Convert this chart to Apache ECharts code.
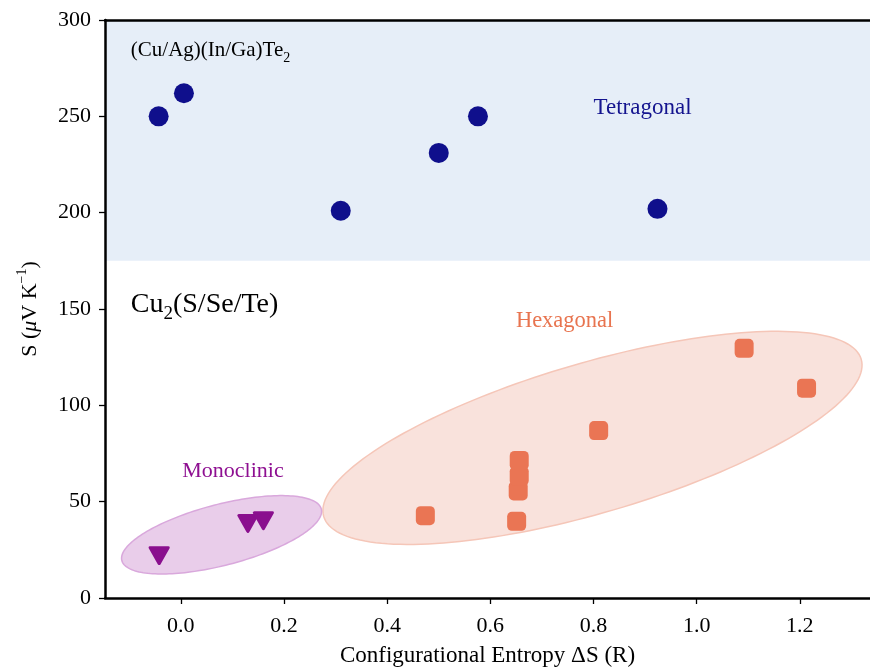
<!DOCTYPE html>
<html><head><meta charset="utf-8">
<script src="https://cdn.jsdelivr.net/npm/echarts@6/dist/echarts.min.js"></script>
<style>html,body{margin:0;padding:0;background:#fff}#c{width:870px;height:672px}</style>
</head><body><div id="c"></div>
<script>
// ---- data ----
const xTicks = [0.0, 0.2, 0.4, 0.6, 0.8, 1.0, 1.2];
const yTicks = [0, 50, 100, 150, 200, 250, 300];
const tetragonalX = [-0.043, 0.006, 0.310, 0.500, 0.576, 0.924];
const tetragonalY = [250, 262, 201, 231, 250, 202];
const hexagonalX = [0.474, 0.651, 0.654, 0.656, 0.656, 0.810, 1.092, 1.213];
const hexagonalY = [42.7, 39.8, 55.6, 63.3, 71.4, 86.9, 129.6, 108.9];
const monoclinicX = [-0.042, 0.130, 0.160];
const monoclinicY = [22, 38.7, 40.1];
const tetragonalBand = [175, 300];

// ---- decorations ----
const FONT = 'Liberation Serif';
const ellipses = [
  {cx: 0.798, cy: 83.1, rx: 280, ry: 75, angle: 16.3, fill: '#f9e2dc', stroke: '#f5c6b8'},
  {cx: 0.079, cy: 32.8, rx: 103, ry: 30.5, angle: 14.5, fill: '#e9cdea', stroke: '#d9a8dc'}
];
const annotations = [
  {x: -0.097, y: 284, text: '{t|(Cu/Ag)(In/Ga)Te}{b|2}', pos: 'right', color: '#000', size: 21},
  {x: -0.097, y: 152.5, text: '{t|Cu}{b|2}{t|(S/Se/Te)}', pos: 'right', color: '#000', size: 28},
  {x: 0.895, y: 254.5, text: '{t|Tetragonal}', pos: 'inside', color: '#14148f', size: 23},
  {x: 0.744, y: 143.5, text: '{t|Hexagonal}', pos: 'inside', color: '#e8744f', size: 22.5},
  {x: 0.101, y: 65.6, text: '{t|Monoclinic}', pos: 'inside', color: '#8e0f91', size: 22}
];

const zip = (xs, ys) => xs.map((x, i) => [x, ys[i]]);
const richFor = (color, size) => ({
  t: {fontFamily: FONT, fontSize: size, color: color, lineHeight: Math.round(size * 1.36)},
  b: {fontFamily: FONT, fontSize: Math.round(size * 0.68), color: color, lineHeight: Math.round(size * 0.9), verticalAlign: 'bottom'}
});

const chart = echarts.init(document.getElementById('c'), null, {renderer: 'canvas'});
chart.setOption({
  animation: false,
  backgroundColor: '#fff',
  grid: {left: 105, right: 0, top: 20, bottom: 68, show: false},
  xAxis: [{
    type: 'value', min: -0.147, max: 1.336, z: 6,
    name: 'Configurational Entropy ΔS (R)', nameLocation: 'middle', nameGap: 46,
    nameTextStyle: {fontFamily: FONT, fontSize: 23, color: '#000'},
    axisLine: {show: true, onZero: false, lineStyle: {color: '#000', width: 2.5}},
    axisTick: {show: true, customValues: xTicks, length: 6, lineStyle: {color: '#000', width: 1.3}},
    axisLabel: {customValues: xTicks, formatter: v => v.toFixed(1), fontFamily: FONT, fontSize: 22, color: '#000', margin: 17},
    splitLine: {show: false}
  }, {
    type: 'value', position: 'top', min: -0.147, max: 1.336, z: 6,
    axisLine: {show: true, onZero: false, lineStyle: {color: '#000', width: 2.5}},
    axisTick: {show: false}, axisLabel: {show: false}, splitLine: {show: false}
  }],
  yAxis: {
    type: 'value', min: yTicks[0], max: yTicks[yTicks.length - 1], interval: 50, z: 6,
    name: '{t|S (}{m|μ}{t|V K}{s|−1}{t|)}', nameLocation: 'middle', nameGap: 60, nameRotate: 90,
    nameTextStyle: {rich: {
      t: {fontFamily: FONT, fontSize: 22, color: '#000', lineHeight: 30},
      m: {fontFamily: FONT, fontSize: 22, fontStyle: 'italic', color: '#000', lineHeight: 30},
      s: {fontFamily: FONT, fontSize: 14, color: '#000', lineHeight: 18, verticalAlign: 'top'}
    }},
    axisLine: {show: true, onZero: false, lineStyle: {color: '#000', width: 2.5}},
    axisTick: {show: true, length: 6, lineStyle: {color: '#000', width: 1.3}},
    axisLabel: {fontFamily: FONT, fontSize: 22, color: '#000', margin: 14},
    splitLine: {show: false}
  },
  series: [
    {
      type: 'scatter', data: [], z: 0, silent: true,
      markArea: {silent: true, itemStyle: {color: '#e6eef8', opacity: 1}, data: [[{yAxis: tetragonalBand[0]}, {yAxis: tetragonalBand[1]}]]}
    },
    {
      type: 'custom', z: 1, silent: true, clip: false,
      data: ellipses.map(e => [e.cx, e.cy]),
      renderItem: (params, api) => {
        const e = ellipses[params.dataIndex];
        const c = api.coord([e.cx, e.cy]);
        const th = e.angle * Math.PI / 180;
        const pts = [];
        for (let i = 0; i < 180; i++) {
          const p = i / 180 * 2 * Math.PI;
          pts.push([
            c[0] + e.rx * Math.cos(p) * Math.cos(th) + e.ry * Math.sin(p) * Math.sin(th),
            c[1] - e.rx * Math.cos(p) * Math.sin(th) + e.ry * Math.sin(p) * Math.cos(th)
          ]);
        }
        return {type: 'polygon', shape: {points: pts}, style: {fill: e.fill, stroke: e.stroke, lineWidth: 1.5}};
      }
    },
    {
      name: 'Tetragonal', type: 'scatter', z: 3, data: zip(tetragonalX, tetragonalY),
      symbol: 'circle', symbolSize: 20, itemStyle: {color: '#0f0f8c', opacity: 1}
    },
    {
      name: 'Hexagonal', type: 'scatter', z: 3, data: zip(hexagonalX, hexagonalY),
      symbol: 'roundRect', symbolSize: 19, itemStyle: {color: '#ea7554', opacity: 1}
    },
    {
      name: 'Monoclinic', type: 'scatter', z: 3, data: zip(monoclinicX, monoclinicY),
      symbol: 'path://M0,0L20,0L10,18Z', symbolSize: [18, 16],
      itemStyle: {color: '#8a0f8e', borderColor: '#8a0f8e', borderWidth: 3, borderJoin: 'round', opacity: 1}
    },
    {
      type: 'scatter', z: 4, silent: true, symbolSize: 0, itemStyle: {opacity: 1},
      data: annotations.map(a => ({
        value: [a.x, a.y],
        label: {show: true, position: a.pos, distance: 0, opacity: 1, formatter: a.text, rich: richFor(a.color, a.size)}
      }))
    }
  ]
});
</script>
</body></html>
